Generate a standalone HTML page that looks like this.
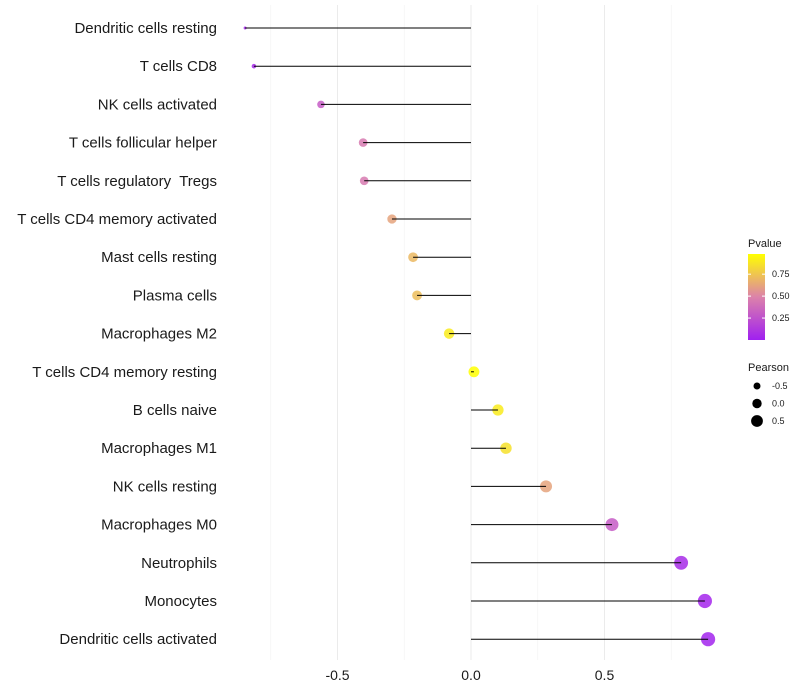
<!DOCTYPE html>
<html><head><meta charset="utf-8"><style>
body{margin:0;background:#fff;}
svg{display:block;font-family:"Liberation Sans",sans-serif;}
text{white-space:pre;}
</style></head><body>
<svg id="chart" width="800" height="700" xmlns="http://www.w3.org/2000/svg"></svg>
<script>
const categories=["Dendritic cells resting","T cells CD8","NK cells activated","T cells follicular helper","T cells regulatory  Tregs","T cells CD4 memory activated","Mast cells resting","Plasma cells","Macrophages M2","T cells CD4 memory resting","B cells naive","Macrophages M1","NK cells resting","Macrophages M0","Neutrophils","Monocytes","Dendritic cells activated"];
const pearson=[-0.846,-0.813,-0.562,-0.404,-0.40,-0.296,-0.217,-0.202,-0.082,0.011,0.101,0.131,0.281,0.528,0.787,0.876,0.888];
const pvalue=[0.03,0.05,0.3,0.45,0.45,0.62,0.7,0.72,0.9,0.98,0.9,0.86,0.62,0.3,0.06,0.03,0.02];
const xTicks=[-0.5,0.0,0.5];
const xTickLabels=["-0.5","0.0","0.5"];
const minorTicks=[-0.75,-0.25,0.25,0.75];
const legendColorTicks=[0.25,0.5,0.75];
const legendSizeVals=[-0.5,0,0.5];

const svg=document.getElementById('chart');
const NS="http://www.w3.org/2000/svg";
const x=v=>471+v*267;
const y=i=>28+i*38.2;
const r=v=>1.5+5.6*Math.sqrt(Math.max(0,(v+0.846)/1.734));
function mix(a,b,t){return a.map((c,k)=>Math.round(c+(b[k]-c)*t));}
function col(p){const s=[[160,32,240],[220,130,170],[255,255,0]];let t=Math.max(0,Math.min(1,p/0.98));
 const c=t<0.5?mix(s[0],s[1],t*2):mix(s[1],s[2],(t-0.5)*2);return `rgb(${c})`;}
function el(tag,attrs,parent){const e=document.createElementNS(NS,tag);for(const k in attrs)e.setAttribute(k,attrs[k]);(parent||svg).appendChild(e);return e;}

const grid=el('g',{});


minorTicks.forEach(v=>el('line',{x1:x(v),x2:x(v),y1:5,y2:660,stroke:'#f3f3f3','stroke-width':0.6},grid));
xTicks.forEach(v=>el('line',{x1:x(v),x2:x(v),y1:5,y2:660,stroke:'#ebebeb','stroke-width':1},grid));

categories.forEach((c,i)=>{
 const t=el('text',{x:217,y:y(i)+5,'text-anchor':'end','font-size':15,fill:'#1a1a1a'});
 t.textContent=c;
 
 
 const p=el('circle',{cx:x(pearson[i]),cy:y(i),r:r(pearson[i]),fill:col(pvalue[i]),'fill-opacity':0.85});
 
 
 const l=el('line',{x1:x(0),x2:x(pearson[i]),y1:y(i),y2:y(i),stroke:'#000','stroke-width':1});
 
 
});
xTicks.forEach((v,k)=>{
 const t=el('text',{x:x(v),y:680,'text-anchor':'middle','font-size':14,fill:'#1a1a1a'});
 t.textContent=xTickLabels[k];
 
 
});
const lg=el('g',{});


const defs=el('defs',{});
const gr=el('linearGradient',{id:'pg',x1:0,y1:1,x2:0,y2:0},defs);
[0,0.25,0.5,0.75,1].forEach(o=>el('stop',{offset:o,'stop-color':col(o*0.98)},gr));
const lt=el('text',{x:748,y:247,'font-size':11,fill:'#1a1a1a'},lg);lt.textContent='Pvalue';
el('rect',{x:748,y:254,width:17,height:86,fill:'url(#pg)'},lg);
const cy=p=>340-p/0.98*86;
legendColorTicks.forEach(p=>{
 el('line',{x1:748,x2:751,y1:cy(p),y2:cy(p),stroke:'#fff'},lg);
 el('line',{x1:762,x2:765,y1:cy(p),y2:cy(p),stroke:'#fff'},lg);
 const t=el('text',{x:772,y:cy(p)+3,'font-size':9,fill:'#1a1a1a'},lg);t.textContent=p.toFixed(2);
});
const sg=el('g',{});


const st=el('text',{x:748,y:371,'font-size':11,fill:'#1a1a1a'},sg);st.textContent='Pearson';
legendSizeVals.forEach((v,k)=>{
 const yy=386+k*17.5;
 el('circle',{cx:757,cy:yy,r:3.5+k*1.2,fill:'#000'},sg);
 const t=el('text',{x:772,y:yy+3,'font-size':9,fill:'#1a1a1a'},sg);t.textContent=v.toFixed(1);
});
</script>
</body></html>
